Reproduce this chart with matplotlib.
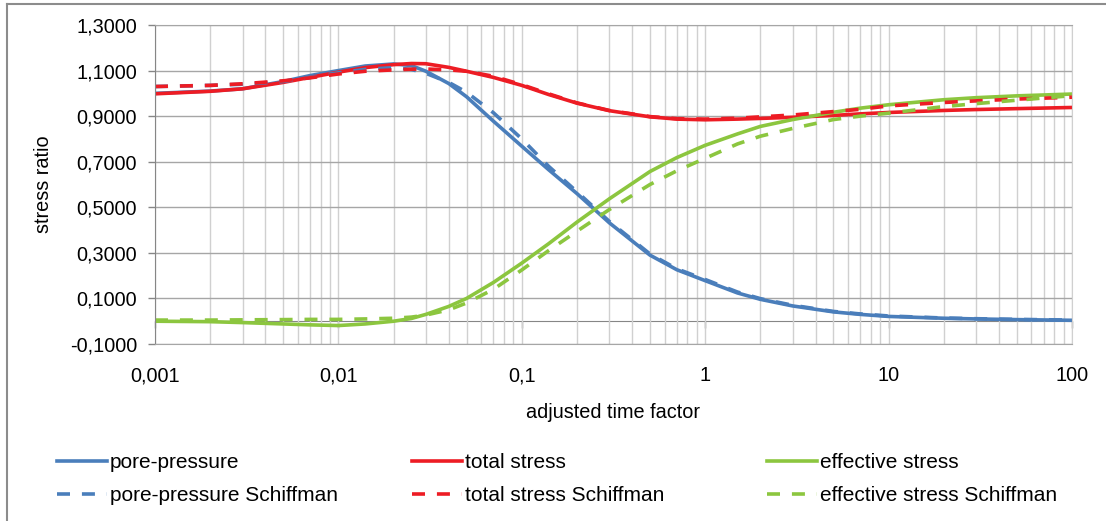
# stress ratio vs adjusted time factor (consolidation, compared with Schiffman)
import numpy as np
import matplotlib.pyplot as plt
from matplotlib.ticker import FixedLocator, FuncFormatter, NullLocator, LogLocator
from matplotlib.lines import Line2D

plt.rcParams['font.family'] = ['Liberation Sans', 'DejaVu Sans']

# data
t = [0.001, 0.002, 0.003, 0.005, 0.007, 0.01, 0.014, 0.02, 0.025, 0.03,
     0.04, 0.05, 0.07, 0.1, 0.14, 0.2, 0.3, 0.5, 0.7, 1,
     1.5, 2, 3, 5, 7, 10, 20, 30, 50, 100]

pore = [1.000, 1.010, 1.020, 1.052, 1.078, 1.100, 1.120, 1.129, 1.122, 1.097,
        1.043, 0.985, 0.878, 0.768, 0.665, 0.560, 0.432, 0.290, 0.226, 0.178,
        0.124, 0.096, 0.067, 0.041, 0.030, 0.021, 0.013, 0.010, 0.007, 0.004]
pore_s = [1.030, 1.035, 1.040, 1.052, 1.070, 1.090, 1.105, 1.113, 1.105, 1.088,
          1.048, 1.005, 0.915, 0.800, 0.680, 0.568, 0.438, 0.295, 0.230, 0.183,
          0.128, 0.099, 0.070, 0.043, 0.032, 0.023, 0.014, 0.011, 0.008, 0.005]
total = [0.998, 1.009, 1.020, 1.048, 1.070, 1.093, 1.113, 1.126, 1.131, 1.130,
         1.114, 1.097, 1.070, 1.035, 0.995, 0.957, 0.924, 0.897, 0.887, 0.884,
         0.887, 0.890, 0.895, 0.903, 0.910, 0.916, 0.925, 0.929, 0.933, 0.938]
total_s = [1.030, 1.035, 1.042, 1.055, 1.068, 1.085, 1.097, 1.103, 1.106, 1.107,
           1.103, 1.097, 1.075, 1.038, 0.998, 0.958, 0.925, 0.898, 0.889, 0.887,
           0.891, 0.897, 0.905, 0.920, 0.930, 0.945, 0.960, 0.967, 0.975, 0.983]
eff = [0.000, -0.002, -0.006, -0.012, -0.016, -0.019, -0.012, 0.000, 0.012, 0.030,
       0.065, 0.100, 0.170, 0.255, 0.340, 0.435, 0.537, 0.657, 0.718, 0.772,
       0.822, 0.855, 0.885, 0.917, 0.935, 0.950, 0.972, 0.981, 0.989, 0.997]
eff_s = [0.005, 0.005, 0.006, 0.007, 0.008, 0.008, 0.010, 0.013, 0.018, 0.027,
         0.050, 0.080, 0.140, 0.225, 0.310, 0.395, 0.490, 0.600, 0.660, 0.715,
         0.778, 0.812, 0.846, 0.885, 0.900, 0.913, 0.942, 0.955, 0.970, 0.990]

x_ticks = [0.001, 0.01, 0.1, 1, 10, 100]
x_labels = ['0,001', '0,01', '0,1', '1', '10', '100']
y_ticks = [-0.1, 0.1, 0.3, 0.5, 0.7, 0.9, 1.1, 1.3]

blue = '#4A7EBB'
red = '#ED1C24'
green = '#8CC63F'
dash = (3.6, 3.3)

fig = plt.figure(figsize=(11.06, 5.21), dpi=100)
ax = fig.add_axes([155/1106, 177/521, 917/1106, 319/521])

ax.set_xscale('log')
ax.set_xlim(0.001, 100)
ax.set_ylim(-0.1, 1.3)

lw = 2.6
l1, = ax.plot(t, pore, color=blue, lw=lw, label='pore-pressure')
l2, = ax.plot(t, total, color=red, lw=lw, label='total stress')
l3, = ax.plot(t, eff, color=green, lw=lw, label='effective stress')
l4, = ax.plot(t, pore_s, color=blue, lw=lw, dashes=dash, label='pore-pressure Schiffman')
l5, = ax.plot(t, total_s, color=red, lw=lw, dashes=dash, label='total stress Schiffman')
l6, = ax.plot(t, eff_s, color=green, lw=lw, dashes=dash, label='effective stress Schiffman')

# ticks
ax.xaxis.set_major_locator(FixedLocator(x_ticks))
ax.xaxis.set_minor_locator(LogLocator(base=10, subs=np.arange(2, 10)))
ax.set_xticklabels(x_labels)
ax.xaxis.set_minor_formatter(FuncFormatter(lambda v, p: ''))
ax.yaxis.set_major_locator(FixedLocator(y_ticks))
ax.yaxis.set_major_formatter(FuncFormatter(lambda v, p: ('%.4f' % v).replace('.', ',')))

ax.tick_params(axis='x', which='both', length=0, pad=16, labelsize=14.3)
ax.tick_params(axis='y', length=5, width=1, color='#868686', pad=8, labelsize=14.3)

# grid
ax.set_axisbelow(True)
ax.grid(True, which='major', axis='y', color='#a6a6a6', lw=1)
ax.grid(True, which='both', axis='x', color='#d0d0d0', lw=1)

for s in ['top', 'bottom']:
    ax.spines[s].set_color('#a6a6a6')
ax.spines['right'].set_color('#d0d0d0')
ax.spines['left'].set_color('#868686')

# horizontal axis crossing at y = 0
sec = ax.secondary_xaxis(0.1/1.4)
sec.xaxis.set_major_locator(FixedLocator(x_ticks))
sec.xaxis.set_minor_locator(NullLocator())
sec.tick_params(axis='x', length=5, width=1, color='#868686', labelbottom=False)
sec.spines['bottom'].set_color('#868686')

ax.set_xlabel('adjusted time factor', fontsize=14.3)
ax.xaxis.label.set_va('center')
ax.xaxis.set_label_coords(0.5, -0.2132)
ax.set_ylabel('stress ratio', fontsize=14.3)
ax.yaxis.label.set_va('center')
ax.yaxis.set_label_coords(-0.1221, 0.5)

# legend, three columns
cols = [([l1, l4], 57), ([l2, l5], 412), ([l3, l6], 767)]
for hs, xl in cols:
    leg = fig.legend(handles=hs, labels=[h.get_label() for h in hs],
                     loc='center left', bbox_to_anchor=(xl/1106, 0.0805),
                     frameon=False, fontsize=15, handlelength=2.4,
                     handletextpad=0.15, borderpad=0, borderaxespad=0,
                     labelspacing=0.68)

# chart area border (top and left visible)
fig.add_artist(Line2D([7/1106, 7/1106], [0, 1 - 4/521], transform=fig.transFigure,
                      color='#8c8c8c', lw=1.5))
fig.add_artist(Line2D([7/1106, 1], [1 - 4/521, 1 - 4/521], transform=fig.transFigure,
                      color='#8c8c8c', lw=1.5))

fig.savefig('out.png', dpi=100)
